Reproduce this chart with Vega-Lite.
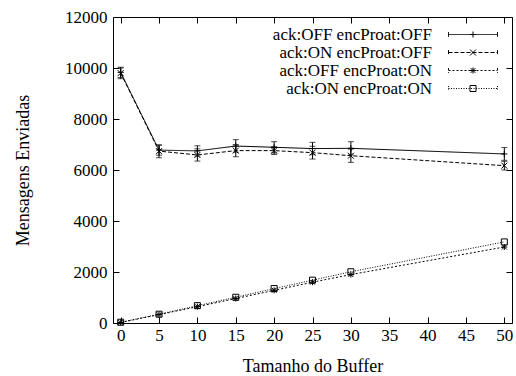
{
  "$schema": "https://vega.github.io/schema/vega-lite/v6.json",
  "width": 399,
  "height": 306,
  "autosize": "none",
  "padding": {"left": 113, "top": 17, "right": 4, "bottom": 53},
  "background": "white",
  "config": {
    "font": "Liberation Serif, Times New Roman, serif",
    "view": {"stroke": "black", "strokeWidth": 1},
    "axis": {"grid": false, "labelFont": "Liberation Serif, Times New Roman, serif", "titleFont": "Liberation Serif, Times New Roman, serif", "labelColor": "black", "titleColor": "black", "tickColor": "black", "domainColor": "black", "labelFontSize": 17, "titleFontSize": 18, "titleFontWeight": "normal"},
    "legend": {"labelFont": "Liberation Serif, Times New Roman, serif"}
  },
  "data": {"values": [
    {"series": "ack:OFF encProat:OFF", "x": 0, "y": 9830, "lo": 9630, "hi": 10030},
    {"series": "ack:OFF encProat:OFF", "x": 5, "y": 6780, "lo": 6580, "hi": 6980},
    {"series": "ack:OFF encProat:OFF", "x": 10, "y": 6750, "lo": 6550, "hi": 6950},
    {"series": "ack:OFF encProat:OFF", "x": 15, "y": 6940, "lo": 6700, "hi": 7190},
    {"series": "ack:OFF encProat:OFF", "x": 20, "y": 6890, "lo": 6670, "hi": 7110},
    {"series": "ack:OFF encProat:OFF", "x": 25, "y": 6840, "lo": 6600, "hi": 7085},
    {"series": "ack:OFF encProat:OFF", "x": 30, "y": 6850, "lo": 6590, "hi": 7110},
    {"series": "ack:OFF encProat:OFF", "x": 50, "y": 6630, "lo": 6380, "hi": 6880},
    {"series": "ack:ON encProat:OFF", "x": 0, "y": 9800, "lo": 9580, "hi": 10000},
    {"series": "ack:ON encProat:OFF", "x": 5, "y": 6740, "lo": 6480, "hi": 6980},
    {"series": "ack:ON encProat:OFF", "x": 10, "y": 6590, "lo": 6350, "hi": 6830},
    {"series": "ack:ON encProat:OFF", "x": 15, "y": 6760, "lo": 6520, "hi": 7000},
    {"series": "ack:ON encProat:OFF", "x": 20, "y": 6760, "lo": 6610, "hi": 6910},
    {"series": "ack:ON encProat:OFF", "x": 25, "y": 6680, "lo": 6430, "hi": 6930},
    {"series": "ack:ON encProat:OFF", "x": 30, "y": 6560, "lo": 6300, "hi": 6820},
    {"series": "ack:ON encProat:OFF", "x": 50, "y": 6170, "lo": 6000, "hi": 6340},
    {"series": "ack:OFF encProat:ON", "x": 0, "y": 20},
    {"series": "ack:OFF encProat:ON", "x": 5, "y": 330},
    {"series": "ack:OFF encProat:ON", "x": 10, "y": 640},
    {"series": "ack:OFF encProat:ON", "x": 15, "y": 960},
    {"series": "ack:OFF encProat:ON", "x": 20, "y": 1280},
    {"series": "ack:OFF encProat:ON", "x": 25, "y": 1600},
    {"series": "ack:OFF encProat:ON", "x": 30, "y": 1900},
    {"series": "ack:OFF encProat:ON", "x": 50, "y": 2980},
    {"series": "ack:ON encProat:ON", "x": 0, "y": 30},
    {"series": "ack:ON encProat:ON", "x": 5, "y": 345},
    {"series": "ack:ON encProat:ON", "x": 10, "y": 680},
    {"series": "ack:ON encProat:ON", "x": 15, "y": 1010},
    {"series": "ack:ON encProat:ON", "x": 20, "y": 1350},
    {"series": "ack:ON encProat:ON", "x": 25, "y": 1680},
    {"series": "ack:ON encProat:ON", "x": 30, "y": 2010},
    {"series": "ack:ON encProat:ON", "x": 50, "y": 3180}
  ]},
  "layer": [
    {
      "mark": {"type": "line", "color": "black", "strokeWidth": 1},
      "encoding": {
        "x": {"field": "x", "type": "quantitative", "scale": {"domain": [-1, 51], "nice": false, "zero": false}, "axis": {"orient": "bottom", "title": "Tamanho do Buffer", "format": "d", "values": [0, 5, 10, 15, 20, 25, 30, 35, 40, 45, 50], "tickSize": -6, "labelPadding": 10, "domain": false, "titleX": 199.5, "titleY": 48, "titleBaseline": "alphabetic"}},
        "y": {"field": "y", "type": "quantitative", "scale": {"domain": [0, 12000], "nice": false}, "axis": {"orient": "left", "title": "Mensagens Enviadas", "format": "d", "values": [0, 2000, 4000, 6000, 8000, 10000, 12000], "tickSize": -6, "labelPadding": 12, "domain": false, "titleX": -85, "titleY": 153, "titleBaseline": "alphabetic"}},
        "strokeDash": {"field": "series", "type": "nominal", "sort": null,
          "scale": {"domain": ["ack:OFF encProat:OFF", "ack:ON encProat:OFF", "ack:OFF encProat:ON", "ack:ON encProat:ON"], "range": [[1, 0], [4, 2], [2, 2], [1, 1.5]]},
          "legend": {"title": null, "orient": "none", "legendX": 351.5, "legendY": 9, "padding": 0, "symbolType": "M-8.17,-0.8L-8.17,0.8M-8.17,0L8.17,0M8.17,-0.8L8.17,0.8", "symbolSize": 36, "symbolStrokeColor": "black", "symbolStrokeWidth": 1, "labelFontSize": 17, "labelColor": "black", "labelAlign": "right", "labelOffset": -49.5, "rowPadding": 0, "labelLimit": 300}}
      }
    },
    {
      "transform": [{"filter": "datum.lo != null"}],
      "mark": {"type": "rule", "color": "black", "strokeWidth": 1},
      "encoding": {
        "x": {"field": "x", "type": "quantitative", "axis": null},
        "y": {"field": "lo", "type": "quantitative", "axis": null},
        "y2": {"field": "hi"}
      }
    },
    {
      "transform": [{"filter": "datum.lo != null"}],
      "mark": {"type": "tick", "orient": "horizontal", "color": "black", "size": 6, "thickness": 1},
      "encoding": {
        "x": {"field": "x", "type": "quantitative", "axis": null},
        "y": {"field": "lo", "type": "quantitative", "axis": null}
      }
    },
    {
      "transform": [{"filter": "datum.lo != null"}],
      "mark": {"type": "tick", "orient": "horizontal", "color": "black", "size": 6, "thickness": 1},
      "encoding": {
        "x": {"field": "x", "type": "quantitative", "axis": null},
        "y": {"field": "hi", "type": "quantitative", "axis": null}
      }
    },
    {
      "transform": [{"calculate": "datum.series", "as": "marker"}],
      "mark": {"type": "point", "color": "black", "filled": false, "strokeWidth": 1, "size": 36, "opacity": 1},
      "encoding": {
        "x": {"field": "x", "type": "quantitative", "axis": {"orient": "top", "title": null, "labels": false, "values": [0, 5, 10, 15, 20, 25, 30, 35, 40, 45, 50], "tickSize": -6, "domain": false}},
        "y": {"field": "y", "type": "quantitative", "axis": {"orient": "right", "title": null, "labels": false, "values": [0, 2000, 4000, 6000, 8000, 10000, 12000], "tickSize": -6, "domain": false}},
        "shape": {"field": "marker", "type": "nominal", "sort": ["ack:OFF encProat:OFF", "ack:ON encProat:OFF", "ack:OFF encProat:ON", "ack:ON encProat:ON"],
          "scale": {"range": ["M-1,0L1,0M0,-1L0,1", "M-1,-1L1,1M-1,1L1,-1", "M-1,0L1,0M0,-1L0,1M-0.8,-0.8L0.8,0.8M-0.8,0.8L0.8,-0.8", "square"]},
          "legend": {"title": null, "orient": "none", "legendX": 351.5, "legendY": 9, "padding": 0, "symbolSize": 36, "symbolStrokeColor": "black", "symbolFillColor": "white", "symbolStrokeWidth": 1, "labelFontSize": 17, "labelExpr": "''", "labelAlign": "right", "labelOffset": -49.5, "rowPadding": 0, "labelLimit": 300}}
      }
    }
  ]
}
